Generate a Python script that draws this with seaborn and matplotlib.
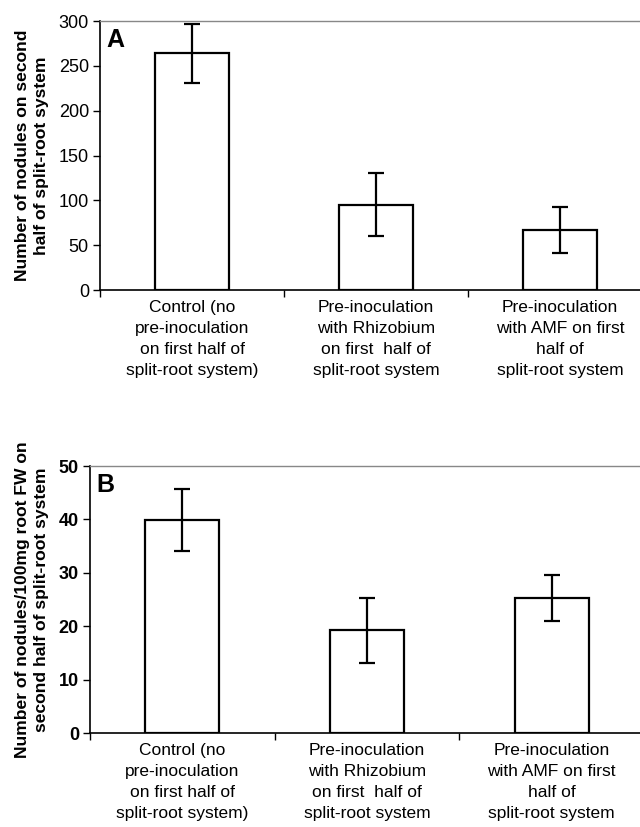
import numpy as np
import pandas as pd
import matplotlib
matplotlib.use('Agg')
import matplotlib.pyplot as plt
import seaborn as sns

# Data
categories = ["Control (no\npre-inoculation\non first half of\nsplit-root system)",
              "Pre-inoculation\nwith Rhizobium\non first  half of\nsplit-root system",
              "Pre-inoculation\nwith AMF on first\nhalf of\nsplit-root system"]
nodules_a = [264, 95, 67]
err_a = [33, 35, 26]
nodules_b = [39.8, 19.2, 25.2]
err_b = [5.8, 6.0, 4.3]

sns.set_style("white")
plt.rcParams['font.family'] = ['Liberation Sans', 'DejaVu Sans']
plt.rcParams.update({"text.color": "black", "axes.labelcolor": "black",
                     "xtick.color": "black", "ytick.color": "black"})

fig = plt.figure(figsize=(6.4, 8.27), dpi=100)
W, H = 640, 827


def panel(rect, vals, errs, ylim, yticks, ylabel, letter, bold_ticks):
    l, t, r, b = rect
    ax = fig.add_axes([l / W, 1 - b / H, (r - l) / W, (b - t) / H])
    df = pd.DataFrame({"cat": categories, "val": vals})
    sns.barplot(data=df, x="cat", y="val", ax=ax, color="white",
                edgecolor="black", linewidth=1.6, width=0.4, errorbar=None)
    ax.errorbar(np.arange(3), vals, yerr=errs, fmt="none", ecolor="black",
                elinewidth=1.6, capsize=6, capthick=1.6)
    ax.set_xlim(-0.5, 2.5)
    ax.set_ylim(*ylim)
    ax.set_yticks(yticks)
    ax.set_yticklabels([str(v) for v in yticks],
                       fontsize=13, fontweight="bold" if bold_ticks else "normal")
    ax.set_xticks([0, 1, 2])
    ax.set_xticklabels(categories, fontsize=12.5, linespacing=1.5)
    ax.set_xticks([0.5, 1.5, 2.5, -0.5], minor=True)
    ax.tick_params(axis="x", which="major", length=0, pad=7)
    ax.tick_params(axis="x", which="minor", length=5, width=1, direction="out", bottom=True)
    ax.tick_params(axis="y", length=5, width=1, direction="out", left=True, pad=3)
    ax.set_xlabel("")
    ax.set_ylabel(ylabel, fontsize=12.6, fontweight="bold", linespacing=1.3, labelpad=7)
    for s in ["left", "bottom"]:
        ax.spines[s].set_color("black")
        ax.spines[s].set_linewidth(1.2)
    for s in ["top", "right"]:
        ax.spines[s].set_color("#888888")
        ax.spines[s].set_linewidth(1.0)
    ax.text(0.012, 0.975, letter, transform=ax.transAxes, fontsize=18,
            fontweight="bold", va="top", ha="left")
    return ax


panel((100, 21, 652, 290), nodules_a, err_a, (0, 300), [0, 50, 100, 150, 200, 250, 300],
      "Number of nodules on second\nhalf of split-root system", "A", False)
panel((90, 466, 644, 733), nodules_b, err_b, (0, 50), [0, 10, 20, 30, 40, 50],
      "Number of nodules/100mg root FW on\nsecond half of split-root system", "B", True)

fig.savefig("out.png", dpi=100)
